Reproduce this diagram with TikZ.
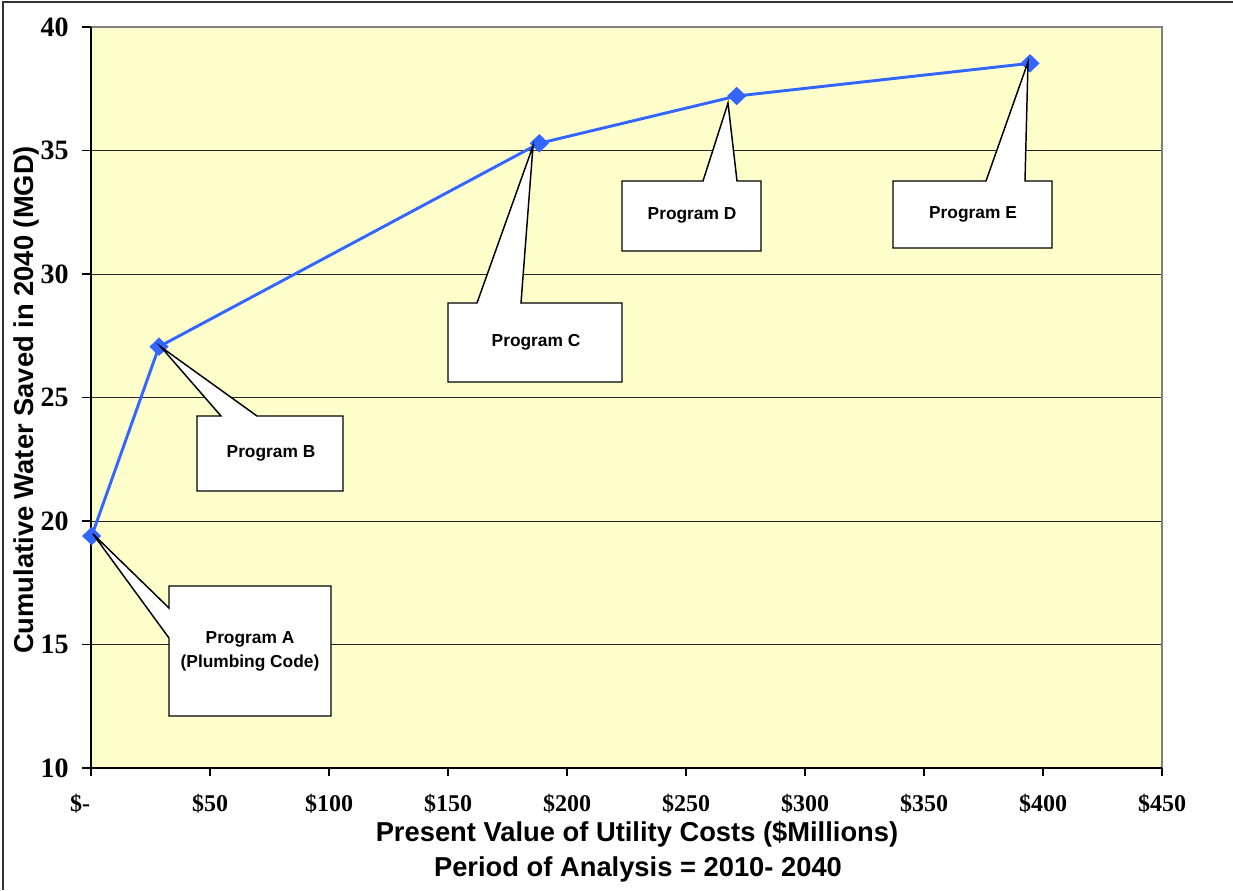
\documentclass[tikz,border=0pt]{standalone}
\usepackage{fontspec}
\setmainfont{Liberation Serif}
\setsansfont{Liberation Sans}
\usetikzlibrary{shapes.geometric}
\definecolor{plotbg}{RGB}{255,255,204}
\definecolor{series}{RGB}{51,102,255}
\definecolor{frameg}{RGB}{128,128,128}
\tikzset{
  gridln/.style={line width=0.6pt, black!85},
  axisln/.style={line width=1.1pt, black},
  ylab/.style={anchor=east, inner sep=0pt, font=\fontsize{21}{25}\selectfont\bfseries\rmfamily},
  xlab/.style={anchor=base, inner sep=0pt, font=\fontsize{18}{22}\selectfont\bfseries\rmfamily},
  axtitle/.style={anchor=base, inner sep=0pt, font=\fontsize{20.5}{24}\selectfont\bfseries\sffamily},
  datapt/.style={diamond, fill=series, inner sep=0pt, minimum width=14.5pt, minimum height=14pt},
  calloutbox/.style={draw=black, fill=white, line width=1.1pt, line join=miter},
  callouttext/.style={inner sep=0pt, align=center, font=\fontsize{13}{17.5}\selectfont\bfseries\sffamily},
  serline/.style={draw=series, line width=2.2pt, line join=round}
}
\begin{document}
\begin{tikzpicture}[x=0.75pt,y=-0.75pt]
\useasboundingbox (0,0) rectangle (1233,890);
% outer frame (left and top visible)
\draw[line width=1.2pt, black!80] (3,890) -- (3,2) -- (1233,2);
% plot area
\fill[plotbg] (91,27) rectangle (1162,768);
% gridlines
\foreach \yy in {644.5,521,397.5,274,150.5} {
  \draw[gridln] (91,\yy) -- (1162,\yy);
}
\draw[line width=0.8pt, frameg] (91,27) -- (1162,27) -- (1162,768);
% axes
\draw[axisln] (91,27) -- (91,768) -- (1162,768);
\foreach \yy in {27,150.5,274,397.5,521,644.5,768} {
  \draw[axisln] (82,\yy) -- (91,\yy);
}
\foreach \xx in {91,210,329,448,567,686,805,924,1043,1162} {
  \draw[axisln] (\xx,768) -- (\xx,776);
}
% y tick labels
\node[ylab] (y40) at (69,27) {40};
\node[ylab] (y35) at (69,150.5) {35};
\node[ylab] (y30) at (69,274) {30};
\node[ylab] (y25) at (69,397.5) {25};
\node[ylab] (y20) at (69,521) {20};
\node[ylab] (y15) at (69,644.5) {15};
\node[ylab] (y10) at (69,768) {10};
% x tick labels
\node[xlab] (x0) at (80,811) {\$-};
\node[xlab] (x50) at (210,811) {\$50};
\node[xlab] (x100) at (329,811) {\$100};
\node[xlab] (x150) at (448,811) {\$150};
\node[xlab] (x200) at (567,811) {\$200};
\node[xlab] (x250) at (686,811) {\$250};
\node[xlab] (x300) at (805,811) {\$300};
\node[xlab] (x350) at (924,811) {\$350};
\node[xlab] (x400) at (1043,811) {\$400};
\node[xlab] (x450) at (1162,811) {\$450};
% axis titles
\node[axtitle] (xt1) at (637,841) {Present Value of Utility Costs (\$Millions)};
\node[axtitle] (xt2) at (638,876) {Period of Analysis = 2010- 2040};
\node[axtitle, rotate=90] (yt) at (33,400) {Cumulative Water Saved in 2040 (MGD)};
% data
\coordinate (pA) at (91.7,536);
\coordinate (pB) at (159,346.7);
\coordinate (pC) at (539.3,143.3);
\coordinate (pD) at (736.7,96);
\coordinate (pE) at (1030,63.3);
\draw[serline] (pA) -- (pB) -- (pC) -- (pD) -- (pE);
\foreach \p in {pA,pB,pC,pD,pE} { \node[datapt] (m\p) at (\p) {}; }
% callout tips
\coordinate (tA) at (93,534);
\coordinate (tB) at (161,347);
\coordinate (tC) at (533,146);
\coordinate (tD) at (728,103);
\coordinate (tE) at (1028,62);
% callouts
\draw[calloutbox] (169,586) -- (331,586) -- (331,716) -- (169,716) -- (169,638) -- (tA) -- (169,608) -- cycle;
\draw[calloutbox] (197,416) -- (221,416) -- (tB) -- (257,416) -- (343,416) -- (343,491) -- (197,491) -- cycle;
\draw[calloutbox] (448,303) -- (477,303) -- (tC) -- (521,303) -- (622,303) -- (622,382) -- (448,382) -- cycle;
\draw[calloutbox] (622,181) -- (703,181) -- (tD) -- (737,181) -- (761,181) -- (761,251) -- (622,251) -- cycle;
\draw[calloutbox] (893,181) -- (986,181) -- (tE) -- (1025,181) -- (1052,181) -- (1052,248) -- (893,248) -- cycle;
\node[callouttext] (cA) at (250,651.5) {Program A\\(Plumbing Code)};
\node[callouttext] (cB) at (271,453.5) {Program B};
\node[callouttext] (cC) at (536,342.5) {Program C};
\node[callouttext] (cD) at (692,215.5) {Program D};
\node[callouttext] (cE) at (973,214) {Program E};
\end{tikzpicture}
\end{document}
